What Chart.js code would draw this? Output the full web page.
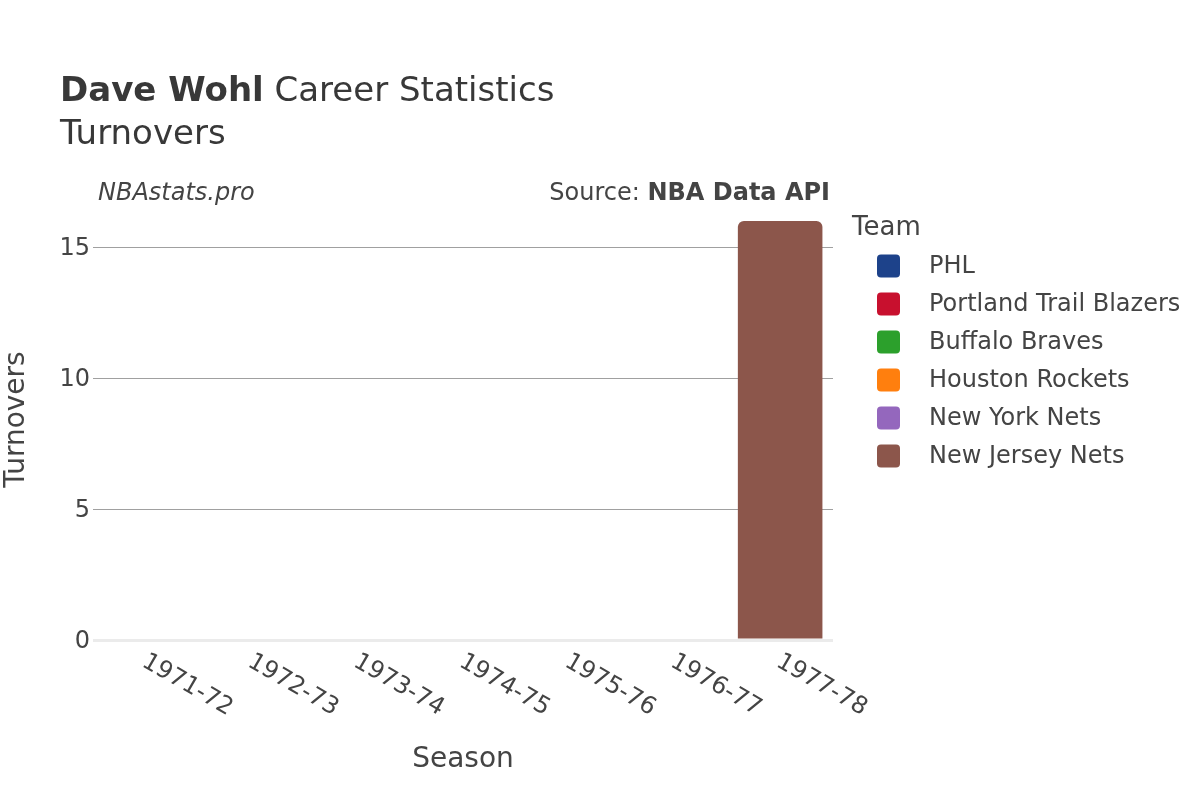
<!DOCTYPE html>
<html>
<head>
<meta charset="utf-8">
<script src="https://cdn.jsdelivr.net/npm/chart.js@4/dist/chart.umd.min.js"></script>
<style>
  html, body { margin: 0; padding: 0; background: #fff; }
  #wrap { width: 1200px; height: 800px; }
</style>
</head>
<body>
<div id="wrap"><canvas id="chart" width="1200" height="800"></canvas></div>
<script>
// --- Daten ---
const SEASONS = ["1971-72", "1972-73", "1973-74", "1974-75", "1975-76", "1976-77", "1977-78"];
const TEAMS = ["PHL", "Portland Trail Blazers", "Buffalo Braves", "Houston Rockets", "New York Nets", "New Jersey Nets"];
const TEAM_COLORS = ["#1d428a", "#c8102e", "#2ca02c", "#ff7f0e", "#9467bd", "#8c564b"];

const PHL_TOV       = [0, null, null, null, null, null, null];
const POR_TOV       = [null, 0, null, null, null, null, null];
const BUF_TOV       = [null, null, 0, null, null, null, null];
const HOU_TOV       = [null, null, 0, 0, 0, null, null];
const NYN_TOV       = [null, null, null, null, 0, 0, null];
const NJN_TOV       = [null, null, null, null, null, null, 16];
const TEAM_VALUES = [PHL_TOV, POR_TOV, BUF_TOV, HOU_TOV, NYN_TOV, NJN_TOV];

const Y_TICKS = [0, 5, 10, 15];
const Y_MAX = 16.84;

const FONT = "'DejaVu Sans', Verdana, sans-serif";
const TEXT = "#444";

// --- Titel, Achsen, Legende selbst zeichnen ---
const chromePlugin = {
  id: 'chromePlugin',
  afterDraw(chart) {
    const {ctx, chartArea} = chart;
    const xs = chart.scales.x, ys = chart.scales.y;
    ctx.save();

    // Titel
    ctx.fillStyle = "#383838";
    ctx.textBaseline = 'alphabetic';
    ctx.textAlign = 'left';
    ctx.font = `bold 34px ${FONT}`;
    ctx.fillText("Dave Wohl", 60, 101);
    const w = ctx.measureText("Dave Wohl").width;
    ctx.font = `34px ${FONT}`;
    ctx.fillText(" Career Statistics", 60 + w, 101);
    ctx.fillText("Turnovers", 60, 144);

    // Quelle
    ctx.fillStyle = TEXT;
    ctx.font = `italic 24px ${FONT}`;
    ctx.fillText("NBAstats.pro", 98, 200);
    ctx.textAlign = 'right';
    ctx.font = `bold 24px ${FONT}`;
    ctx.fillText("NBA Data API", 830, 200);
    const bw = ctx.measureText("NBA Data API").width;
    ctx.font = `24px ${FONT}`;
    ctx.fillText("Source: ", 830 - bw, 200);

    // Y-Ticks
    ctx.font = `24px ${FONT}`;
    ctx.textAlign = 'right';
    ctx.textBaseline = 'middle';
    Y_TICKS.forEach(v => ctx.fillText(String(v), chartArea.left - 3, ys.getPixelForValue(v) + 2));

    // X-Ticks (30° im Uhrzeigersinn)
    SEASONS.forEach((s, i) => {
      const x = xs.getPixelForValue(i);
      ctx.save();
      ctx.translate(x - 2, chartArea.bottom + 20);
      ctx.rotate(Math.PI / 6);
      ctx.textAlign = 'left';
      ctx.textBaseline = 'middle';
      ctx.fillText(s, 0, 0);
      ctx.restore();
    });

    // Achsentitel
    ctx.font = `28px ${FONT}`;
    ctx.textAlign = 'center';
    ctx.textBaseline = 'middle';
    ctx.fillText("Season", (chartArea.left + chartArea.right) / 2, 760);
    ctx.save();
    ctx.translate(17, (chartArea.top + chartArea.bottom) / 2);
    ctx.rotate(-Math.PI / 2);
    ctx.fillText("Turnovers", 0, 0);
    ctx.restore();

    // Legende
    ctx.textAlign = 'left';
    ctx.font = `26px ${FONT}`;
    ctx.fillText("Team", 852, 228);
    ctx.font = `24px ${FONT}`;
    chart.data.datasets.forEach((ds, i) => {
      const y = 266 + i * 38;
      ctx.fillStyle = ds.backgroundColor;
      ctx.beginPath();
      ctx.roundRect(877, y - 11.5, 23, 23, 4);
      ctx.fill();
      ctx.fillStyle = TEXT;
      ctx.fillText(ds.label, 929, y + 1);
    });
    ctx.restore();
  }
};

const datasets = TEAMS.map((t, i) => ({
  label: t,
  data: TEAM_VALUES[i],
  backgroundColor: TEAM_COLORS[i],
  borderWidth: 0,
  borderSkipped: false,
  borderRadius: {topLeft: 6, topRight: 6, bottomLeft: 0, bottomRight: 0},
  barPercentage: 0.8,
  categoryPercentage: 1.0
}));

new Chart(document.getElementById("chart"), {
  type: "bar",
  data: { labels: SEASONS, datasets },
  options: {
    responsive: false,
    animation: false,
    layout: { padding: { left: 93, right: 367, top: 199, bottom: 160 } },
    plugins: {
      legend: { display: false },
      tooltip: { enabled: false }
    },
    scales: {
      x: {
        stacked: true,
        grid: { display: false, drawTicks: false },
        border: { display: false },
        ticks: { display: false }
      },
      y: {
        stacked: true,
        min: 0,
        max: Y_MAX,
        afterBuildTicks: (scale) => { scale.ticks = Y_TICKS.map(v => ({value: v})); },
        grid: {
          drawTicks: false,
          color: (c) => c.tick && c.tick.value === 0 ? "#ebebeb" : "#a0a0a0",
          lineWidth: (c) => c.tick && c.tick.value === 0 ? 3 : 1
        },
        border: { display: false },
        ticks: { display: false }
      }
    }
  },
  plugins: [chromePlugin]
});
</script>
</body>
</html>
